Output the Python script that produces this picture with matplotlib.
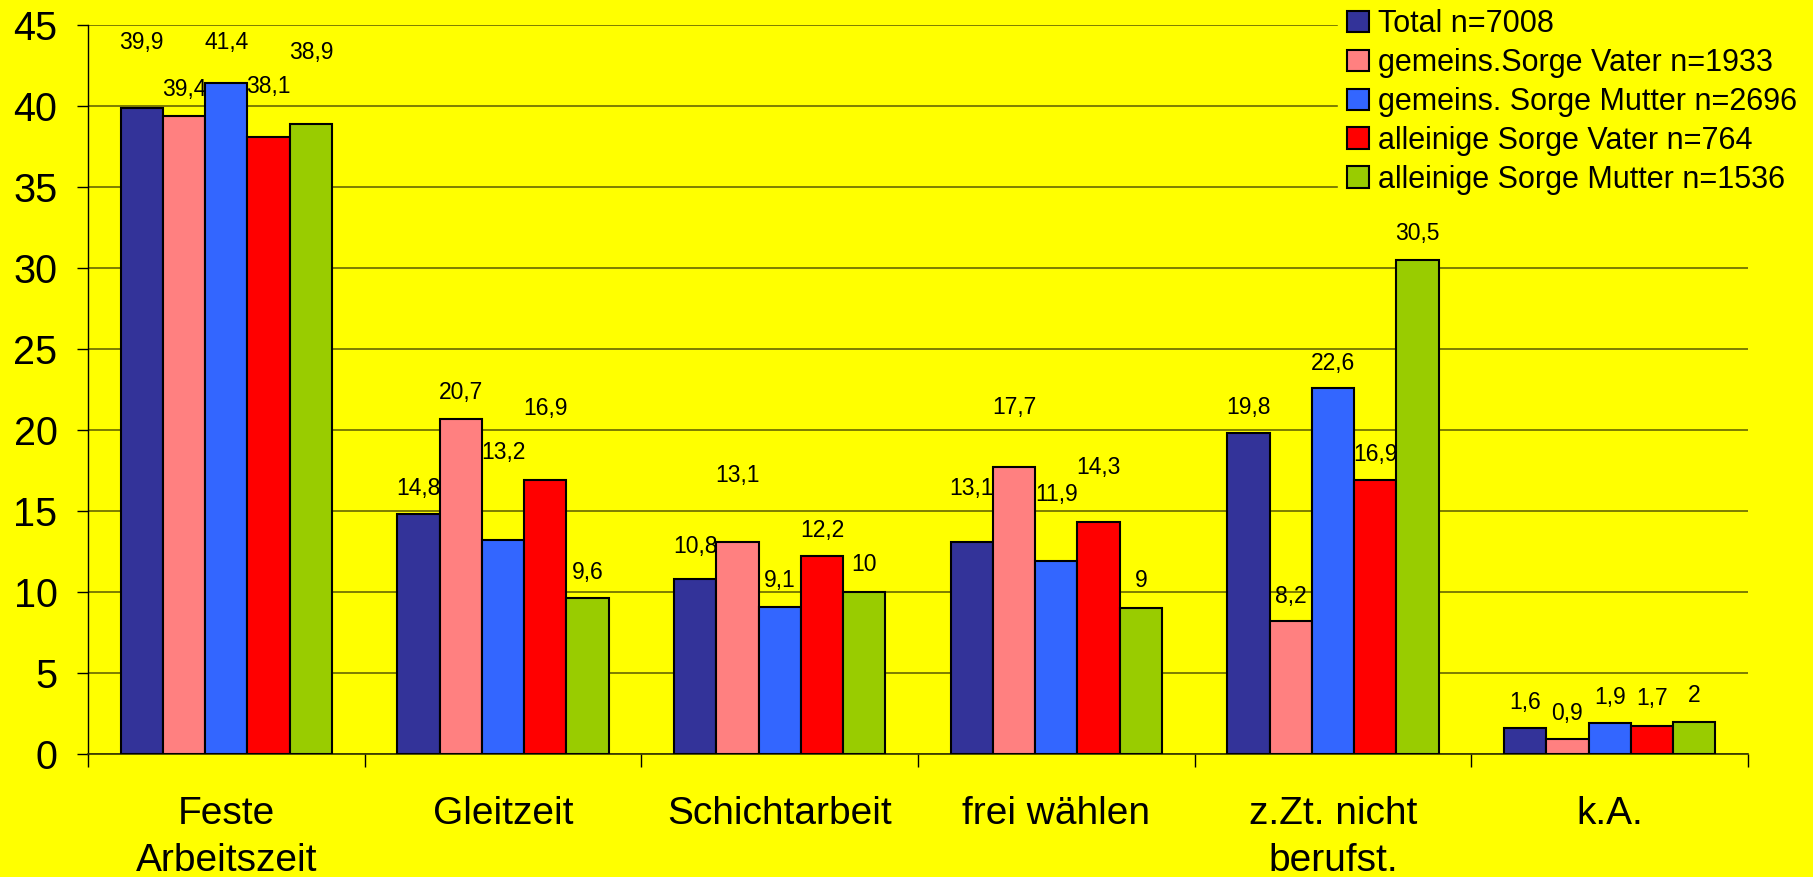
import numpy as np
import matplotlib
matplotlib.use("Agg")
import matplotlib.pyplot as plt

plt.rcParams['font.family'] = ['Liberation Sans', 'DejaVu Sans']

categories = ["Feste\nArbeitszeit", "Gleitzeit", "Schichtarbeit", "frei wählen",
              "z.Zt. nicht\nberufst.", "k.A."]
series_names = ["Total n=7008", "gemeins.Sorge Vater n=1933", "gemeins. Sorge Mutter n=2696",
                "alleinige Sorge Vater n=764", "alleinige Sorge Mutter n=1536"]
total = [39.9, 14.8, 10.8, 13.1, 19.8, 1.6]
gem_vater = [39.4, 20.7, 13.1, 17.7, 8.2, 0.9]
gem_mutter = [41.4, 13.2, 9.1, 11.9, 22.6, 1.9]
all_vater = [38.1, 16.9, 12.2, 14.3, 16.9, 1.7]
all_mutter = [38.9, 9.6, 10, 9, 30.5, 2]
y_ticks = [0, 5, 10, 15, 20, 25, 30, 35, 40, 45]

series = [total, gem_vater, gem_mutter, all_vater, all_mutter]
colors = ["#333399", "#FF8080", "#3366FF", "#FF0000", "#99CC00"]

# how far above each bar its label sits (excel placed them unevenly)
label_lift = [
    [4.0, 1.6, 2.0, 3.3, 1.6, 1.6],
    [1.6, 1.6, 4.1, 3.7, 1.5, 1.6],
    [2.5, 5.4, 1.6, 4.1, 1.5, 1.6],
    [3.1, 4.4, 1.6, 3.4, 1.6, 1.7],
    [4.4, 1.6, 1.7, 1.7, 1.6, 1.6],
]

yellow = "#FFFF00"
fig = plt.figure(figsize=(18.13, 8.77), dpi=100, facecolor=yellow)
ax = fig.add_axes([88/1813, 1 - 754/877, (1748-88)/1813, (754-25)/877])
ax.set_facecolor(yellow)

x = np.arange(len(categories))
w = 0.153
for i, (vals, col, name) in enumerate(zip(series, colors, series_names)):
    pos = x + (i - 2) * w
    ax.bar(pos, vals, width=w, color=col, edgecolor="black", linewidth=1.5,
           label=name, zorder=3)
    for p, v, lift in zip(pos, vals, label_lift[i]):
        txt = ("%g" % v).replace(".", ",")
        ax.text(p, v + lift, txt, ha="center", va="center", fontsize=16.5, zorder=4)

ax.set_xlim(-0.5, 5.5)
ax.set_ylim(0, 45)
ax.set_yticks(y_ticks)
ax.yaxis.grid(True, color="#5a5a00", linewidth=1.1, zorder=0)
ax.set_axisbelow(True)

ax.set_xticks(x)
ax.set_xticklabels(categories, fontsize=28, linespacing=1.42)
ax.set_xticks(np.arange(-0.5, 6, 1), minor=True)
ax.tick_params(axis="x", which="major", length=0, pad=30)
ax.tick_params(axis="x", which="minor", length=9, width=1, direction="out")
ax.tick_params(axis="y", labelsize=28.5, length=8, width=1, pad=14)

for s in ["top", "right"]:
    ax.spines[s].set_visible(False)
ax.spines["left"].set_linewidth(1)
ax.spines["bottom"].set_linewidth(1.2)
ax.spines["bottom"].set_color("#333300")

handles, labels = ax.get_legend_handles_labels()
leg = fig.legend(handles, labels, loc="upper left", bbox_to_anchor=(1338/1813, 1.0),
                 fontsize=22, frameon=True, facecolor=yellow, edgecolor=yellow,
                 framealpha=1, fancybox=False, borderpad=0.3, borderaxespad=0,
                 handlelength=0.7, handleheight=0.7, handletextpad=0.3,
                 labelspacing=0.29)

plt.savefig("out.png", dpi=100, facecolor=yellow)
